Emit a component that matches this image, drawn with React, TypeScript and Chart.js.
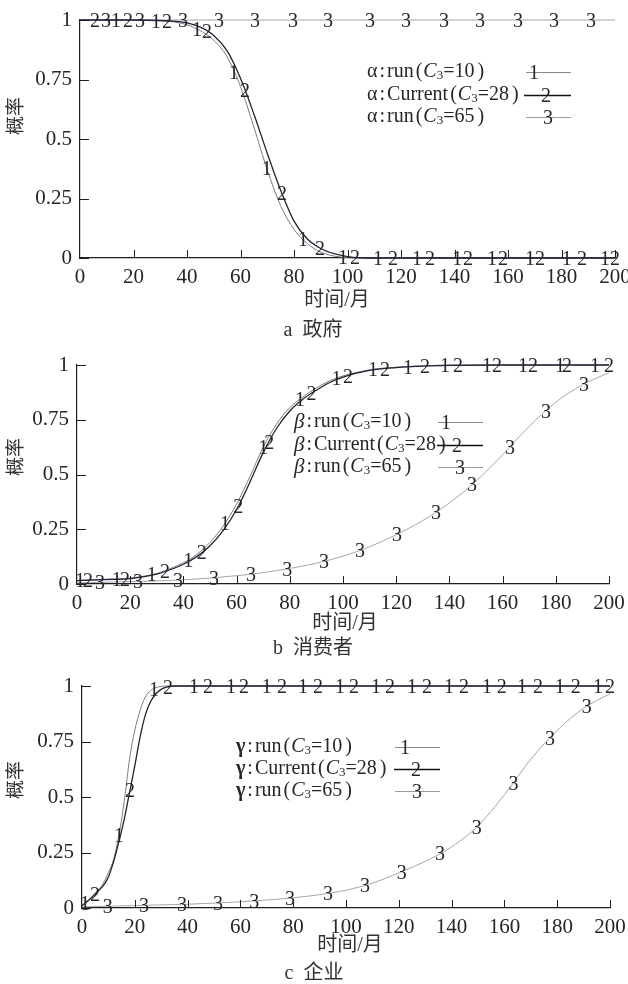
import React, { useEffect, useRef } from "react";
import { Chart, registerables } from "chart.js";

Chart.register(...registerables);

const SERIF = '"Liberation Serif", "Times New Roman", serif';
const MIXED = '"Liberation Serif", "Noto Sans CJK SC", serif';
const TEXT_COLOR = "#262626";
const AXIS_COLOR = "#1e1e1e";

// ---- axes ----
const X_MIN = 0;
const X_MAX = 200;
const X_STEP = 20;
const Y_MIN = 0;
const Y_MAX = 1;
const Y_STEP = 0.25;

// ---- legend text ----
const SERIES_NAMES = ["run", "Current", "run"];
const C3_VALUES = ["10", "28", "65"];
const DIGITS = ["1", "2", "3"];

// ---- panel a : 政府 (α) ----
const A_X = [0, 10, 20, 30, 35, 40, 45, 50, 55, 60, 65, 70, 75, 80, 85, 90, 95, 100, 105, 110, 120, 140, 160, 180, 200];
const A_RUN10 = [1, 1, 1, 0.997, 0.992, 0.98, 0.955, 0.915, 0.845, 0.72, 0.55, 0.37, 0.22, 0.12, 0.06, 0.025, 0.008, 0.002, 0, 0, 0, 0, 0, 0, 0];
const A_CURRENT28 = [1, 1, 1, 0.998, 0.995, 0.988, 0.97, 0.935, 0.87, 0.755, 0.605, 0.44, 0.285, 0.155, 0.08, 0.04, 0.018, 0.006, 0.001, 0, 0, 0, 0, 0, 0];
const A_RUN65 = [1, 1, 1, 1, 1, 1, 1, 1, 1, 1, 1, 1, 1, 1, 1, 1, 1, 1, 1, 1, 1, 1, 1, 1, 1];
const A_MARK1 = [13.5, 28.4, 43.7, 57.5, 69.8, 83.4, 98.3, 111.4, 126, 141, 154, 168.2, 182, 196.3];
const A_MARK2 = [5.6, 17.9, 32.5, 47.5, 61.7, 75.5, 89.7, 102.8, 117, 130.8, 145, 158.1, 172, 187.7, 200];
const A_MARK3 = [9.7, 22.4, 38.5, 52, 65.4, 79.6, 92.7, 108.4, 121.9, 136.1, 149.5, 163.7, 177.2, 191];

// ---- panel b : 消费者 (β) ----
const B_X = [0, 10, 20, 30, 35, 40, 45, 50, 55, 60, 65, 70, 75, 80, 85, 90, 95, 100, 110, 120, 130, 140, 160, 180, 200];
const B_RUN10 = [0.016, 0.021, 0.027, 0.048, 0.07, 0.097, 0.135, 0.19, 0.265, 0.365, 0.49, 0.625, 0.73, 0.805, 0.855, 0.895, 0.928, 0.95, 0.978, 0.99, 0.996, 1, 1, 1, 1];
const B_CURRENT28 = [0.015, 0.02, 0.025, 0.045, 0.065, 0.09, 0.125, 0.175, 0.245, 0.34, 0.465, 0.6, 0.71, 0.79, 0.845, 0.885, 0.92, 0.945, 0.975, 0.988, 0.995, 0.998, 1, 1, 1];
const B_X3 = [0, 10, 20, 30, 40, 50, 60, 70, 80, 90, 100, 110, 120, 130, 140, 150, 160, 170, 180, 190, 200];
const B_RUN65 = [0.005, 0.008, 0.011, 0.014, 0.019, 0.027, 0.038, 0.052, 0.071, 0.095, 0.127, 0.17, 0.225, 0.29, 0.37, 0.47, 0.59, 0.72, 0.83, 0.91, 0.965];
const B_MARK1 = [1.1, 14.9, 28.1, 41.8, 55.6, 70, 83.8, 97.6, 111.3, 124.4, 138.3, 154.1, 167.7, 181.6, 194.7];
const B_MARK2 = [4.1, 18, 33.1, 46.9, 60.6, 72.3, 88.2, 101.9, 115.8, 130.8, 143.2, 157.9, 171.4, 184.2, 200];
const B_MARK3 = [8.6, 22.9, 38, 51.5, 65.4, 79, 92.9, 106.4, 120.3, 135, 148.5, 162.8, 176.3, 190.6];

// ---- panel c : 企业 (γ) ----
const C_X = [0, 2, 4, 6, 8, 10, 12, 14, 16, 18, 20, 22, 24, 26, 28, 30, 32, 35, 40, 60, 80, 100, 120, 140, 160, 180, 200];
const C_RUN10 = [0.01, 0.03, 0.055, 0.08, 0.11, 0.16, 0.22, 0.33, 0.48, 0.67, 0.8, 0.89, 0.95, 0.98, 0.993, 0.998, 1, 1, 1, 1, 1, 1, 1, 1, 1, 1, 1];
const C_CURRENT28 = [0.01, 0.03, 0.05, 0.075, 0.1, 0.14, 0.21, 0.3, 0.4, 0.52, 0.64, 0.77, 0.87, 0.93, 0.965, 0.985, 0.995, 1, 1, 1, 1, 1, 1, 1, 1, 1, 1];
const C_X3 = [0, 10, 20, 30, 40, 50, 60, 70, 80, 90, 100, 110, 120, 130, 140, 150, 160, 170, 180, 190, 200];
const C_RUN65 = [0.005, 0.008, 0.011, 0.014, 0.017, 0.022, 0.028, 0.036, 0.046, 0.06, 0.08, 0.112, 0.158, 0.21, 0.275, 0.37, 0.51, 0.67, 0.8, 0.9, 0.965];
const C_MARK1 = [1.1, 14, 27.3, 42.4, 56.4, 70, 83.7, 97.7, 111.4, 125, 139, 153.4, 166.7, 181, 195.5];
const C_MARK2 = [4.9, 18.2, 32.6, 47.7, 61.4, 75.8, 89.4, 103, 116.7, 130.7, 144.7, 159, 172.7, 187, 200];
const C_MARK3 = [9.8, 23.5, 37.9, 51.5, 65.2, 78.8, 93.2, 107.2, 121.1, 135.6, 149.5, 163.4, 177.3, 191.2];

// ---- styles ----
const LINE_COLORS = ["#7c7c7c", "#1c2536", "#a6a6a6"];
const LINE_WIDTHS = [1, 1.3, 1];
const LEGEND_COLORS = ["#8a8a8a", "#111111", "#9c9c9c"];

type Series = { x: number[]; y: number[]; marks: number[] };
type Panel = {
  key: string;
  top: number;
  height: number;
  area: { left: number; right: number; top: number; bottom: number };
  greek: string;
  greekFont: string;
  series: Series[];
  legend: { x: number; rows: number[]; lineStart: number[]; lineEnd: number; digitX: number[] };
  yTitle: { x: number; y: number };
  xTitle: { x: number; y: number };
  caption: { x: number; y: number; label: string; text: string };
};

const PANELS: Panel[] = [
  {
    key: "a",
    top: 0,
    height: 340,
    area: { left: 80, right: 615, top: 20, bottom: 258 },
    greek: "α",
    greekFont: `20px ${SERIF}`,
    series: [
      { x: A_X, y: A_RUN10, marks: A_MARK1 },
      { x: A_X, y: A_CURRENT28, marks: A_MARK2 },
      { x: A_X, y: A_RUN65, marks: A_MARK3 },
    ],
    legend: { x: 367, rows: [72, 94.5, 117], lineStart: [526, 524, 526], lineEnd: 571, digitX: [534, 546, 548] },
    yTitle: { x: 17, y: 116 },
    xTitle: { x: 337, y: 301 },
    caption: { x: 313, y: 331, label: "a", text: "政府" },
  },
  {
    key: "b",
    top: 340,
    height: 320,
    area: { left: 77, right: 609, top: 365, bottom: 584 },
    greek: "β",
    greekFont: `italic 21px ${SERIF}`,
    series: [
      { x: B_X, y: B_RUN10, marks: B_MARK1 },
      { x: B_X, y: B_CURRENT28, marks: B_MARK2 },
      { x: B_X3, y: B_RUN65, marks: B_MARK3 },
    ],
    legend: { x: 294, rows: [422, 445, 467], lineStart: [438, 437, 438], lineEnd: 483, digitX: [446, 457, 460] },
    yTitle: { x: 17, y: 457 },
    xTitle: { x: 345, y: 624 },
    caption: { x: 313, y: 649, label: "b", text: "消费者" },
  },
  {
    key: "c",
    top: 660,
    height: 324,
    area: { left: 82, right: 610, top: 686, bottom: 908 },
    greek: "γ",
    greekFont: `bold 20px ${SERIF}`,
    series: [
      { x: C_X, y: C_RUN10, marks: C_MARK1 },
      { x: C_X, y: C_CURRENT28, marks: C_MARK2 },
      { x: C_X3, y: C_RUN65, marks: C_MARK3 },
    ],
    legend: { x: 236, rows: [747, 769, 791], lineStart: [395, 394, 395], lineEnd: 440, digitX: [405, 416, 417] },
    yTitle: { x: 17, y: 780 },
    xTitle: { x: 350, y: 946 },
    caption: { x: 314, y: 974, label: "c", text: "企业" },
  },
];

const X_AXIS_H = 40;

function interp(xs: number[], ys: number[], x: number) {
  if (x <= xs[0]) return ys[0];
  for (let i = 1; i < xs.length; i++) {
    if (x <= xs[i]) {
      const t = (x - xs[i - 1]) / (xs[i] - xs[i - 1]);
      return ys[i - 1] + (ys[i] - ys[i - 1]) * t;
    }
  }
  return ys[ys.length - 1];
}

type Seg = { t: string; font: string; gap?: number; dy?: number };

function drawSegs(ctx: CanvasRenderingContext2D, segs: Seg[], x: number, y: number) {
  let cx = x;
  for (const s of segs) {
    cx += s.gap || 0;
    ctx.font = s.font;
    ctx.fillText(s.t, cx, y + (s.dy || 0));
    cx += ctx.measureText(s.t).width;
  }
  return cx;
}

function makeDecor(p: Panel) {
  return {
    id: "decor_" + p.key,
    afterDatasetsDraw(chart: any) {
      const ctx: CanvasRenderingContext2D = chart.ctx;
      const xs = chart.scales.x;
      const ys = chart.scales.y;
      const ca = chart.chartArea;
      const off = p.top;
      ctx.save();

      // inward tick marks
      ctx.strokeStyle = AXIS_COLOR;
      ctx.lineWidth = 1;
      ctx.beginPath();
      for (const t of ys.ticks) {
        const py = Math.round(ys.getPixelForValue(t.value)) + 0.5;
        ctx.moveTo(ca.left, py);
        ctx.lineTo(ca.left + 9, py);
      }
      for (const t of xs.ticks) {
        if (t.value === X_MIN) continue;
        const px = Math.round(xs.getPixelForValue(t.value)) + 0.5;
        ctx.moveTo(px, ca.bottom);
        ctx.lineTo(px, ca.bottom - 8);
      }
      ctx.stroke();

      // numbered markers on curves
      ctx.fillStyle = TEXT_COLOR;
      ctx.font = `20px ${SERIF}`;
      ctx.textAlign = "center";
      ctx.textBaseline = "alphabetic";
      p.series.forEach((s, si) => {
        for (const mx of s.marks) {
          const my = interp(s.x, s.y, mx);
          const px = xs.getPixelForValue(mx);
          const py = ys.getPixelForValue(my);
          ctx.fillText(DIGITS[si], px, py + 7);
        }
      });

      // legend
      const base = `20px ${SERIF}`;
      const ital = `italic 20px ${SERIF}`;
      const sub = `13px ${SERIF}`;
      p.series.forEach((_, si) => {
        const ry = p.legend.rows[si] - off;
        ctx.textAlign = "left";
        ctx.textBaseline = "middle";
        ctx.fillStyle = TEXT_COLOR;
        drawSegs(
          ctx,
          [
            { t: p.greek, font: p.greekFont },
            { t: ":", font: base, gap: 2 },
            { t: SERIES_NAMES[si], font: base, gap: 2 },
            { t: "(", font: base, gap: 2 },
            { t: "C", font: ital, gap: 1 },
            { t: "3", font: sub, dy: 4 },
            { t: "=" + C3_VALUES[si], font: base },
            { t: ")", font: base, gap: 3 },
          ],
          p.legend.x,
          ry
        );
        ctx.strokeStyle = LEGEND_COLORS[si];
        ctx.lineWidth = si === 1 ? 1.4 : 1;
        ctx.beginPath();
        ctx.moveTo(p.legend.lineStart[si], Math.round(ry) + 0.5);
        ctx.lineTo(p.legend.lineEnd, Math.round(ry) + 0.5);
        ctx.stroke();
        ctx.fillStyle = TEXT_COLOR;
        ctx.font = `20px ${SERIF}`;
        ctx.textAlign = "center";
        ctx.textBaseline = "alphabetic";
        ctx.fillText(DIGITS[si], p.legend.digitX[si], ry + 7);
      });

      // axis titles and caption
      ctx.fillStyle = "#333";
      ctx.textAlign = "center";
      ctx.textBaseline = "middle";
      ctx.font = `19px ${MIXED}`;
      ctx.save();
      ctx.translate(p.yTitle.x, p.yTitle.y - off);
      ctx.rotate(-Math.PI / 2);
      ctx.fillText("概率", 0, 0);
      ctx.restore();
      ctx.font = `20px ${MIXED}`;
      ctx.fillText("时间/月", p.xTitle.x, p.xTitle.y - off);

      ctx.textAlign = "left";
      ctx.font = `20px ${SERIF}`;
      const lw = ctx.measureText(p.caption.label).width;
      ctx.font = `20px ${MIXED}`;
      const tw = ctx.measureText(p.caption.text).width;
      const total = lw + 10 + tw;
      const cx0 = p.caption.x - total / 2;
      ctx.font = `20px ${SERIF}`;
      ctx.fillText(p.caption.label, cx0, p.caption.y - off);
      ctx.font = `20px ${MIXED}`;
      ctx.fillText(p.caption.text, cx0 + lw + 10, p.caption.y - off);

      ctx.restore();
    },
  };
}

function fmtY(v: number | string) {
  return String(Math.round(Number(v) * 100) / 100);
}

function PanelChart({ panel }: { panel: Panel }) {
  const ref = useRef<HTMLCanvasElement | null>(null);
  useEffect(() => {
    if (!ref.current) return;
    const p = panel;
    const yw = p.area.left;
    const tickFont = { family: SERIF, size: 21 };
    const chart = new Chart(ref.current, {
      type: "line",
      data: {
        datasets: p.series.map((s, si) => ({
          label: SERIES_NAMES[si],
          data: s.x.map((x, i) => ({ x, y: s.y[i] })),
          borderColor: LINE_COLORS[si],
          borderWidth: LINE_WIDTHS[si],
          pointRadius: 0,
          fill: false,
          cubicInterpolationMode: "monotone",
          clip: false,
          order: si === 1 ? 0 : 1,
        })),
      },
      options: {
        animation: false,
        responsive: false,
        maintainAspectRatio: false,
        events: [],
        layout: {
          padding: {
            left: 0,
            top: p.area.top - p.top,
            right: 628 - p.area.right,
            bottom: p.height - (p.area.bottom - p.top) - X_AXIS_H,
          },
        },
        plugins: {
          legend: { display: false },
          tooltip: { enabled: false },
          title: { display: false },
        },
        scales: {
          x: {
            type: "linear",
            min: X_MIN,
            max: X_MAX,
            ticks: { stepSize: X_STEP, font: tickFont, color: TEXT_COLOR, padding: 7, maxRotation: 0, autoSkip: false },
            grid: { display: false, drawTicks: false },
            border: { display: true, color: AXIS_COLOR, width: 1.2 },
            afterFit: (s: any) => {
              s.height = X_AXIS_H;
              s.paddingLeft = 0;
              s.paddingRight = 0;
            },
          },
          y: {
            type: "linear",
            min: Y_MIN,
            max: Y_MAX,
            ticks: { stepSize: Y_STEP, font: tickFont, color: TEXT_COLOR, padding: 8, callback: (v: any) => fmtY(v) },
            grid: { display: false, drawTicks: false },
            border: { display: true, color: AXIS_COLOR, width: 1.2 },
            afterFit: (s: any) => {
              s.width = yw;
              s.paddingTop = 0;
              s.paddingBottom = 0;
            },
          },
        },
      } as any,
      plugins: [makeDecor(p)],
    });
    return () => chart.destroy();
  }, [panel]);
  return (
    <canvas
      ref={ref}
      width={628}
      height={panel.height}
      style={{ position: "absolute", left: 0, top: panel.top, width: 628, height: panel.height }}
    />
  );
}

export default function App() {
  return (
    <div style={{ position: "absolute", left: 0, top: 0, width: 628, height: 984, background: "#fff" }}>
      {PANELS.map((p) => (
        <PanelChart key={p.key} panel={p} />
      ))}
    </div>
  );
}
